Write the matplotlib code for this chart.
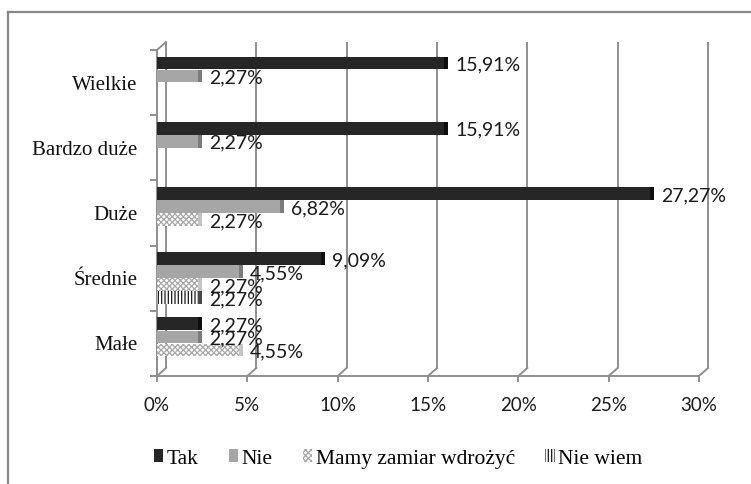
import matplotlib
matplotlib.use("Agg")
import matplotlib.pyplot as plt
from matplotlib.patches import Patch
from matplotlib.lines import Line2D

# Share of companies (in %) by size and answer
categories = ["Wielkie", "Bardzo duże", "Duże", "Średnie", "Małe"]
series_names = ["Tak", "Nie", "Mamy zamiar wdrożyć", "Nie wiem"]
tak = [15.91, 15.91, 27.27, 9.09, 2.27]
nie = [2.27, 2.27, 6.82, 4.55, 2.27]
mamy = [0.0, 0.0, 2.27, 2.27, 4.55]
nie_wiem = [0.0, 0.0, 0.0, 2.27, 0.0]
x_ticks = [0, 5, 10, 15, 20, 25, 30]
x_tick_labels = ["0%", "5%", "10%", "15%", "20%", "25%", "30%"]

series_values = [tak, nie, mamy, nie_wiem]

SERIF = "Liberation Serif"
SANS = "Lato"
plt.rcParams["font.family"] = SERIF
plt.rcParams["hatch.linewidth"] = 0.9

W, H, DPI = 751, 484, 100
fig = plt.figure(figsize=(W / DPI, H / DPI), dpi=DPI)
fig.patch.set_facecolor("white")

# front plane of the plot area, in pixels
ax_left, ax_right, ax_top, ax_bottom = 157, 699, 50, 376
ax = fig.add_axes([ax_left / W, 1 - ax_bottom / H,
                   (ax_right - ax_left) / W, (ax_bottom - ax_top) / H])
ax.set_facecolor("none")
XMAX = 30
n = len(categories)
ax.set_xlim(0, XMAX)
ax.set_ylim(n - 0.5, -0.5)

# depth of the pseudo-3D walls, converted to data units
DEPTH_X_PX, DEPTH_Y_PX = 9, 8
DX = DEPTH_X_PX * XMAX / (ax_right - ax_left)
DY = DEPTH_Y_PX * n / (ax_bottom - ax_top)
CAP = 4 * XMAX / (ax_right - ax_left)

grid_c = "#8f8f8f"
y_lo, y_hi = n - 0.5, -0.5

# back wall gridlines and their floor connectors
for xv in x_ticks:
    ax.plot([xv + DX, xv + DX], [y_lo - DY, y_hi - DY], color=grid_c, lw=1.4,
            clip_on=False, zorder=1, solid_capstyle="butt")
    ax.plot([xv, xv + DX], [y_lo, y_lo - DY], color=grid_c, lw=1.4,
            clip_on=False, zorder=1)
# top edge of the side wall
ax.plot([0, DX], [y_hi, y_hi - DY], color=grid_c, lw=1.4, clip_on=False, zorder=1)

# bars
face_colors = ["#262626", "#a6a6a6", "white", "white"]
cap_colors = ["#0f0f0f", "#7b7b7b", "#c4c4c4", "#4a4a4a"]
hatches = [None, None, "xxxxxx", "|||||"]
hatch_colors = ["#262626", "#a6a6a6", "#a8a8a8", "#1a1a1a"]
offsets = [-0.3, -0.1, 0.1, 0.3]
bar_h = 0.195

for vals, off, fc, cc, hat, hc in zip(series_values, offsets, face_colors,
                                      cap_colors, hatches, hatch_colors):
    ys = [i + off for i in range(n)]
    for y, v in zip(ys, vals):
        if v <= 0:
            continue
        ax.barh(y, v, height=bar_h, left=0, color=fc, edgecolor=hc,
                hatch=hat, linewidth=0, zorder=3)
        ax.barh(y, CAP, height=bar_h, left=v, color=cc, linewidth=0, zorder=3)
        ax.annotate(f"{v:.2f}".replace(".", ",") + "%", xy=(v, y), xytext=(11, -2),
                    textcoords="offset pixels", ha="left", va="center",
                    fontsize=14, family=SANS, color="#1a1a1a", zorder=5)

# axes lines and ticks
for side in ["top", "right"]:
    ax.spines[side].set_visible(False)
for side in ["left", "bottom"]:
    ax.spines[side].set_color(grid_c)
    ax.spines[side].set_linewidth(1.4)
    ax.spines[side].set_zorder(2)

ax.set_xticks(x_ticks)
ax.set_xticklabels(x_tick_labels)
ax.tick_params(axis="x", direction="out", length=4, width=1.4, color=grid_c,
               pad=11, labelsize=13.5, labelcolor="#1a1a1a")

ax.set_yticks(range(n))
ax.set_yticklabels(categories)
ax.set_yticks([i - 0.5 for i in range(n + 1)], minor=True)
ax.tick_params(axis="y", which="major", length=0, pad=14, labelsize=15,
               labelcolor="#111111")
ax.tick_params(axis="y", which="minor", direction="out", length=5, width=1.4,
               color=grid_c)

# legend
handles = [Patch(facecolor=fc, edgecolor=hc, hatch=hat, linewidth=0)
           for fc, hc, hat in zip(face_colors, hatch_colors, hatches)]
leg = fig.legend(handles, series_names, loc="center",
                 bbox_to_anchor=(398 / W, 1 - 459 / H),
                 ncol=4, frameon=False, prop={"family": SERIF, "size": 15.5},
                 handlelength=0.45, handleheight=0.55, handletextpad=0.15,
                 columnspacing=1.4, borderaxespad=0)

# outer border of the chart area
bx, by = 8 / W, 1 - 12 / H
fig.add_artist(Line2D([bx, bx], [0, by], transform=fig.transFigure,
                      color="#878787", lw=1.6))
fig.add_artist(Line2D([bx, 1], [by, by], transform=fig.transFigure,
                      color="#878787", lw=1.6))

# fonts for tick labels: sans for percentages, serif for categories
for lbl in ax.get_xticklabels():
    lbl.set_fontfamily(SANS)
for lbl in ax.get_yticklabels():
    lbl.set_fontfamily(SERIF)
for t in leg.get_texts():
    t.set_fontfamily(SERIF)

fig.savefig("out.png", dpi=DPI, facecolor="white")
